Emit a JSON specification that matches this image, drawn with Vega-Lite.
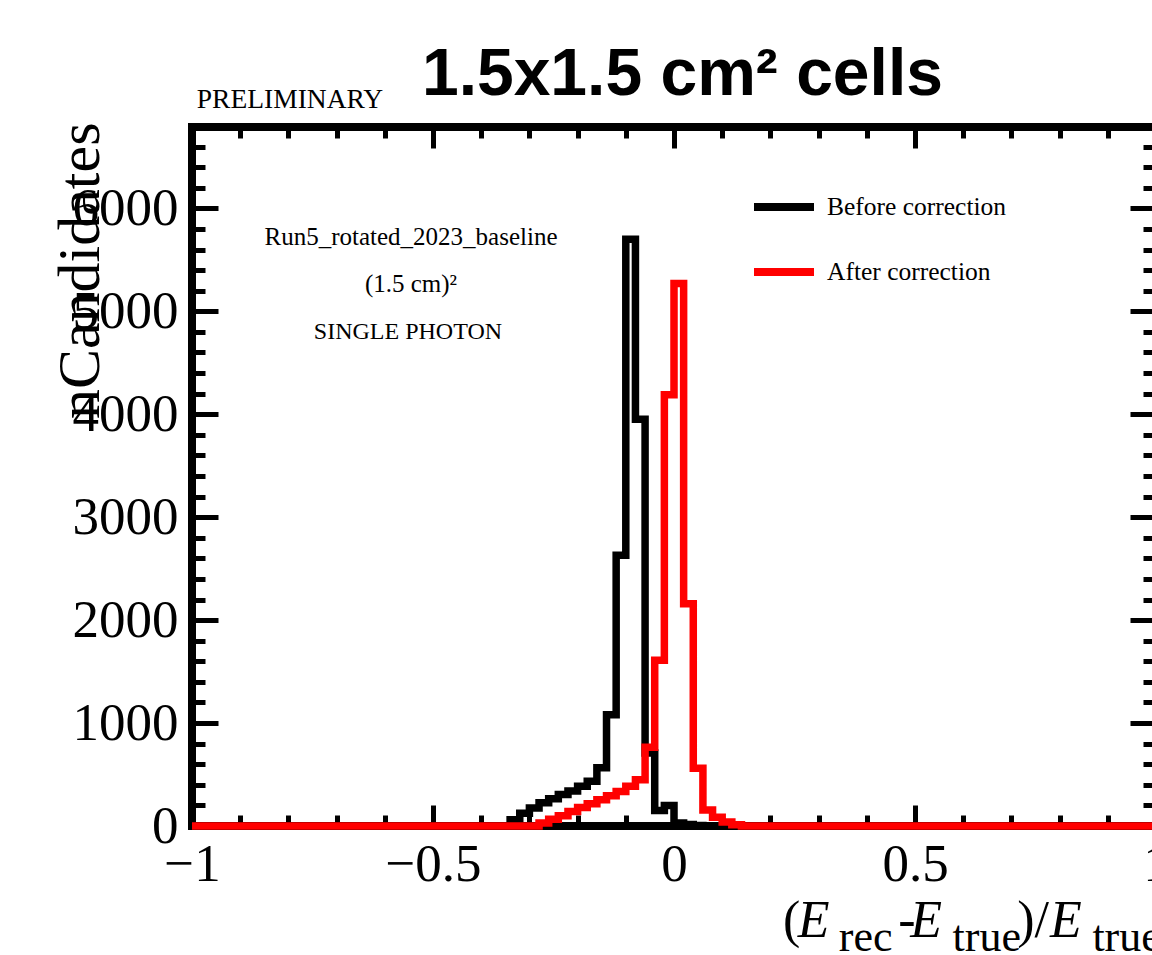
{
  "$schema": "https://vega.github.io/schema/vega-lite/v6.json",
  "width": 964,
  "height": 699,
  "autosize": "none",
  "padding": {"left": 192, "top": 127, "right": 0, "bottom": 129},
  "background": "white",
  "config": {
    "view": {"stroke": "black", "strokeWidth": 8},
    "axis": {"domain": false, "grid": false, "tickColor": "black", "tickWidth": 5, "labelFont": "Liberation Serif", "labelFontSize": 53, "labelColor": "black", "labelFlush": false, "labelOverlap": false}
  },
  "datasets": {
    "hist": [
      {"x": -1, "b": 0, "a": 0}, {"x": -0.98, "b": 0, "a": 0}, {"x": -0.96, "b": 0, "a": 0}, {"x": -0.94, "b": 0, "a": 0},
      {"x": -0.92, "b": 0, "a": 0}, {"x": -0.9, "b": 0, "a": 0}, {"x": -0.88, "b": 0, "a": 0}, {"x": -0.86, "b": 0, "a": 0},
      {"x": -0.84, "b": 0, "a": 0}, {"x": -0.82, "b": 0, "a": 0}, {"x": -0.8, "b": 0, "a": 0}, {"x": -0.78, "b": 0, "a": 0},
      {"x": -0.76, "b": 0, "a": 0}, {"x": -0.74, "b": 0, "a": 0}, {"x": -0.72, "b": 0, "a": 0}, {"x": -0.7, "b": 0, "a": 0},
      {"x": -0.68, "b": 0, "a": 0}, {"x": -0.66, "b": 0, "a": 0}, {"x": -0.64, "b": 0, "a": 0}, {"x": -0.62, "b": 0, "a": 0},
      {"x": -0.6, "b": 0, "a": 0}, {"x": -0.58, "b": 0, "a": 0}, {"x": -0.56, "b": 0, "a": 0}, {"x": -0.54, "b": 0, "a": 0},
      {"x": -0.52, "b": 0, "a": 0}, {"x": -0.5, "b": 0, "a": 0}, {"x": -0.48, "b": 0, "a": 0}, {"x": -0.46, "b": 0, "a": 0},
      {"x": -0.44, "b": 0, "a": 0}, {"x": -0.42, "b": 0, "a": 0}, {"x": -0.4, "b": 0, "a": 0}, {"x": -0.38, "b": 0, "a": 0},
      {"x": -0.36, "b": 0, "a": 0},
      {"x": -0.34, "b": 60, "a": 0},
      {"x": -0.32, "b": 125, "a": 0},
      {"x": -0.3, "b": 175, "a": 0},
      {"x": -0.28, "b": 225, "a": 30},
      {"x": -0.26, "b": 265, "a": 65},
      {"x": -0.24, "b": 305, "a": 100},
      {"x": -0.22, "b": 340, "a": 140},
      {"x": -0.2, "b": 385, "a": 180},
      {"x": -0.18, "b": 435, "a": 215},
      {"x": -0.16, "b": 565, "a": 255},
      {"x": -0.14, "b": 1080, "a": 295},
      {"x": -0.12, "b": 2630, "a": 335},
      {"x": -0.1, "b": 5700, "a": 385},
      {"x": -0.08, "b": 3950, "a": 450},
      {"x": -0.06, "b": 710, "a": 765},
      {"x": -0.04, "b": 150, "a": 1610},
      {"x": -0.02, "b": 200, "a": 4190},
      {"x": 0, "b": 30, "a": 5270},
      {"x": 0.02, "b": 15, "a": 2160},
      {"x": 0.04, "b": 5, "a": 560},
      {"x": 0.06, "b": 0, "a": 155},
      {"x": 0.08, "b": 0, "a": 85},
      {"x": 0.1, "b": 0, "a": 40},
      {"x": 0.12, "b": 0, "a": 12},
      {"x": 0.14, "b": 0, "a": 0}, {"x": 0.16, "b": 0, "a": 0}, {"x": 0.18, "b": 0, "a": 0}, {"x": 0.2, "b": 0, "a": 0},
      {"x": 0.22, "b": 0, "a": 0}, {"x": 0.24, "b": 0, "a": 0}, {"x": 0.26, "b": 0, "a": 0}, {"x": 0.28, "b": 0, "a": 0},
      {"x": 0.3, "b": 0, "a": 0}, {"x": 0.32, "b": 0, "a": 0}, {"x": 0.34, "b": 0, "a": 0}, {"x": 0.36, "b": 0, "a": 0},
      {"x": 0.38, "b": 0, "a": 0}, {"x": 0.4, "b": 0, "a": 0}, {"x": 0.42, "b": 0, "a": 0}, {"x": 0.44, "b": 0, "a": 0},
      {"x": 0.46, "b": 0, "a": 0}, {"x": 0.48, "b": 0, "a": 0}, {"x": 0.5, "b": 0, "a": 0}, {"x": 0.52, "b": 0, "a": 0},
      {"x": 0.54, "b": 0, "a": 0}, {"x": 0.56, "b": 0, "a": 0}, {"x": 0.58, "b": 0, "a": 0}, {"x": 0.6, "b": 0, "a": 0},
      {"x": 0.62, "b": 0, "a": 0}, {"x": 0.64, "b": 0, "a": 0}, {"x": 0.66, "b": 0, "a": 0}, {"x": 0.68, "b": 0, "a": 0},
      {"x": 0.7, "b": 0, "a": 0}, {"x": 0.72, "b": 0, "a": 0}, {"x": 0.74, "b": 0, "a": 0}, {"x": 0.76, "b": 0, "a": 0},
      {"x": 0.78, "b": 0, "a": 0}, {"x": 0.8, "b": 0, "a": 0}, {"x": 0.82, "b": 0, "a": 0}, {"x": 0.84, "b": 0, "a": 0},
      {"x": 0.86, "b": 0, "a": 0}, {"x": 0.88, "b": 0, "a": 0}, {"x": 0.9, "b": 0, "a": 0}, {"x": 0.92, "b": 0, "a": 0},
      {"x": 0.94, "b": 0, "a": 0}, {"x": 0.96, "b": 0, "a": 0}, {"x": 0.98, "b": 0, "a": 0},
      {"x": 1, "b": 0, "a": 0}
    ]
  },
  "data": {"name": "hist"},
  "resolve": {"axis": {"x": "independent", "y": "independent"}},
  "layer": [
    {
      "mark": {"type": "line", "interpolate": "step-after", "strokeWidth": 7.5, "strokeJoin": "miter", "strokeCap": "butt"},
      "encoding": {
        "x": {"field": "x", "type": "quantitative", "scale": {"domain": [-1, 1], "nice": false, "zero": false},
          "axis": {"orient": "bottom", "values": [-1, -0.5, 0, 0.5, 1], "format": "~g", "tickSize": -21, "labelPadding": 33, "title": null}},
        "y": {"field": "b", "type": "quantitative", "scale": {"domain": [0, 6790], "nice": false},
          "axis": {"orient": "left", "values": [0, 1000, 2000, 3000, 4000, 5000, 6000], "format": "d", "tickSize": -26, "labelPadding": 40,
            "title": "nCandidates", "titleFont": "Liberation Serif", "titleFontSize": 60, "titleFontWeight": "normal", "titleColor": "black",
            "titleAngle": -90, "titleAlign": "right", "titleBaseline": "alphabetic", "titleX": -94, "titleY": -5}},
        "color": {"datum": "Before correction", "type": "nominal",
          "scale": {"domain": ["Before correction", "After correction"], "range": ["#000000", "#ff0000"]},
          "legend": {"orient": "none", "legendX": 558, "legendY": 46, "title": null, "symbolType": "stroke", "symbolSize": 3600,
            "symbolStrokeWidth": 8, "labelFont": "Liberation Serif", "labelFontSize": 25.5, "labelColor": "black", "labelOffset": 9,
            "rowPadding": 15, "padding": 0, "labelLimit": 0}}
      }
    },
    {
      "mark": {"type": "line", "interpolate": "step-after", "strokeWidth": 7.5, "strokeJoin": "miter", "strokeCap": "butt"},
      "encoding": {
        "x": {"field": "x", "type": "quantitative", "scale": {"domain": [-1, 1], "nice": false, "zero": false},
          "axis": {"orient": "bottom", "values": [-0.9, -0.8, -0.7, -0.6, -0.4, -0.3, -0.2, -0.1, 0.1, 0.2, 0.3, 0.4, 0.6, 0.7, 0.8, 0.9], "labels": false, "tickSize": -11, "title": null}},
        "y": {"field": "a", "type": "quantitative", "scale": {"domain": [0, 6790], "nice": false},
          "axis": {"orient": "left", "values": [200, 400, 600, 800, 1200, 1400, 1600, 1800, 2200, 2400, 2600, 2800, 3200, 3400, 3600, 3800, 4200, 4400, 4600, 4800, 5200, 5400, 5600, 5800, 6200, 6400, 6600], "labels": false, "tickSize": -13, "title": null}},
        "color": {"datum": "After correction", "type": "nominal",
          "scale": {"domain": ["Before correction", "After correction"], "range": ["#000000", "#ff0000"]},
          "legend": {"orient": "none", "legendX": 558, "legendY": 46, "title": null, "symbolType": "stroke", "symbolSize": 3600,
            "symbolStrokeWidth": 8, "labelFont": "Liberation Serif", "labelFontSize": 25.5, "labelColor": "black", "labelOffset": 9,
            "rowPadding": 15, "padding": 0, "labelLimit": 0}}
      }
    },
    {
      "mark": {"type": "point", "opacity": 0},
      "encoding": {
        "x": {"field": "x", "type": "quantitative", "scale": {"domain": [-1, 1], "nice": false, "zero": false},
          "axis": {"orient": "top", "values": [-1, -0.5, 0, 0.5, 1], "labels": false, "tickSize": -21, "title": null}},
        "y": {"field": "b", "type": "quantitative", "scale": {"domain": [0, 6790], "nice": false},
          "axis": {"orient": "right", "values": [0, 1000, 2000, 3000, 4000, 5000, 6000], "labels": false, "tickSize": -26, "title": null}}
      }
    },
    {
      "mark": {"type": "point", "opacity": 0},
      "encoding": {
        "x": {"field": "x", "type": "quantitative", "scale": {"domain": [-1, 1], "nice": false, "zero": false},
          "axis": {"orient": "top", "values": [-0.9, -0.8, -0.7, -0.6, -0.4, -0.3, -0.2, -0.1, 0.1, 0.2, 0.3, 0.4, 0.6, 0.7, 0.8, 0.9], "labels": false, "tickSize": -11, "title": null}},
        "y": {"field": "b", "type": "quantitative", "scale": {"domain": [0, 6790], "nice": false},
          "axis": {"orient": "right", "values": [200, 400, 600, 800, 1200, 1400, 1600, 1800, 2200, 2400, 2600, 2800, 3200, 3400, 3600, 3800, 4200, 4400, 4600, 4800, 5200, 5400, 5600, 5800, 6200, 6400, 6600], "labels": false, "tickSize": -13, "title": null}}
      }
    },
    {
      "data": {"values": [{"label": "1.5x1.5 cm² cells"}]},
      "mark": {"type": "text", "font": "Liberation Sans", "fontWeight": "bold", "fontSize": 66, "align": "center", "baseline": "alphabetic", "color": "black"},
      "encoding": {
        "x": {"datum": 0.0175, "type": "quantitative", "axis": null},
        "y": {"datum": 7105, "type": "quantitative", "axis": null},
        "text": {"field": "label"}
      }
    },
    {
      "data": {"values": [{"label": "PRELIMINARY"}]},
      "mark": {"type": "text", "font": "Liberation Serif", "fontSize": 27.5, "align": "left", "baseline": "alphabetic", "color": "black"},
      "encoding": {
        "x": {"datum": -0.99, "type": "quantitative", "axis": null},
        "y": {"datum": 6979, "type": "quantitative", "axis": null},
        "text": {"field": "label"}
      }
    },
    {
      "data": {"values": [{"label": "Run5_rotated_2023_baseline"}]},
      "mark": {"type": "text", "font": "Liberation Serif", "fontSize": 25, "align": "center", "baseline": "alphabetic", "color": "black"},
      "encoding": {
        "x": {"datum": -0.5456, "type": "quantitative", "axis": null},
        "y": {"datum": 5646, "type": "quantitative", "axis": null},
        "text": {"field": "label"}
      }
    },
    {
      "data": {"values": [{"label": "(1.5 cm)²"}]},
      "mark": {"type": "text", "font": "Liberation Serif", "fontSize": 25, "align": "center", "baseline": "alphabetic", "color": "black"},
      "encoding": {
        "x": {"datum": -0.5456, "type": "quantitative", "axis": null},
        "y": {"datum": 5192, "type": "quantitative", "axis": null},
        "text": {"field": "label"}
      }
    },
    {
      "data": {"values": [{"label": "SINGLE PHOTON"}]},
      "mark": {"type": "text", "font": "Liberation Serif", "fontSize": 24, "align": "center", "baseline": "alphabetic", "color": "black"},
      "encoding": {
        "x": {"datum": -0.552, "type": "quantitative", "axis": null},
        "y": {"datum": 4726, "type": "quantitative", "axis": null},
        "text": {"field": "label"}
      }
    },
    {
      "data": {"values": [{"label": "("}]},
      "mark": {"type": "text", "font": "Liberation Serif", "fontSize": 52, "align": "left", "baseline": "alphabetic", "color": "black"},
      "encoding": {
        "x": {"datum": 0.226, "type": "quantitative", "axis": null},
        "y": {"datum": -1083, "type": "quantitative", "axis": null},
        "text": {"field": "label"}
      }
    },
    {
      "data": {"values": [{"label": "E"}]},
      "mark": {"type": "text", "font": "Liberation Serif", "fontStyle": "italic", "fontSize": 52, "align": "left", "baseline": "alphabetic", "color": "black"},
      "encoding": {
        "x": {"datum": 0.257, "type": "quantitative", "axis": null},
        "y": {"datum": -1083, "type": "quantitative", "axis": null},
        "text": {"field": "label"}
      }
    },
    {
      "data": {"values": [{"label": "rec"}]},
      "mark": {"type": "text", "font": "Liberation Serif", "fontSize": 44, "align": "left", "baseline": "alphabetic", "color": "black"},
      "encoding": {
        "x": {"datum": 0.342, "type": "quantitative", "axis": null},
        "y": {"datum": -1219, "type": "quantitative", "axis": null},
        "text": {"field": "label"}
      }
    },
    {
      "data": {"values": [{"label": "-"}]},
      "mark": {"type": "text", "font": "Liberation Serif", "fontSize": 52, "align": "left", "baseline": "alphabetic", "color": "black"},
      "encoding": {
        "x": {"datum": 0.465, "type": "quantitative", "axis": null},
        "y": {"datum": -1083, "type": "quantitative", "axis": null},
        "text": {"field": "label"}
      }
    },
    {
      "data": {"values": [{"label": "E"}]},
      "mark": {"type": "text", "font": "Liberation Serif", "fontStyle": "italic", "fontSize": 52, "align": "left", "baseline": "alphabetic", "color": "black"},
      "encoding": {
        "x": {"datum": 0.49, "type": "quantitative", "axis": null},
        "y": {"datum": -1083, "type": "quantitative", "axis": null},
        "text": {"field": "label"}
      }
    },
    {
      "data": {"values": [{"label": "true"}]},
      "mark": {"type": "text", "font": "Liberation Serif", "fontSize": 44, "align": "left", "baseline": "alphabetic", "color": "black"},
      "encoding": {
        "x": {"datum": 0.578, "type": "quantitative", "axis": null},
        "y": {"datum": -1219, "type": "quantitative", "axis": null},
        "text": {"field": "label"}
      }
    },
    {
      "data": {"values": [{"label": ")/"}]},
      "mark": {"type": "text", "font": "Liberation Serif", "fontSize": 52, "align": "left", "baseline": "alphabetic", "color": "black"},
      "encoding": {
        "x": {"datum": 0.712, "type": "quantitative", "axis": null},
        "y": {"datum": -1083, "type": "quantitative", "axis": null},
        "text": {"field": "label"}
      }
    },
    {
      "data": {"values": [{"label": "E"}]},
      "mark": {"type": "text", "font": "Liberation Serif", "fontStyle": "italic", "fontSize": 52, "align": "left", "baseline": "alphabetic", "color": "black"},
      "encoding": {
        "x": {"datum": 0.78, "type": "quantitative", "axis": null},
        "y": {"datum": -1083, "type": "quantitative", "axis": null},
        "text": {"field": "label"}
      }
    },
    {
      "data": {"values": [{"label": "true"}]},
      "mark": {"type": "text", "font": "Liberation Serif", "fontSize": 44, "align": "left", "baseline": "alphabetic", "color": "black"},
      "encoding": {
        "x": {"datum": 0.868, "type": "quantitative", "axis": null},
        "y": {"datum": -1219, "type": "quantitative", "axis": null},
        "text": {"field": "label"}
      }
    }
  ]
}
